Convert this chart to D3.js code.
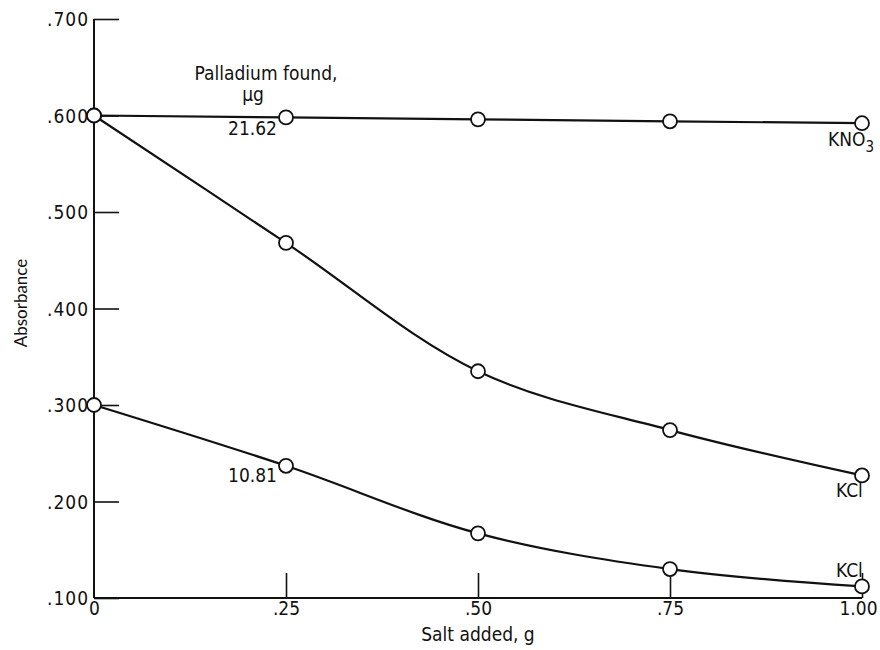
<!DOCTYPE html>
<html>
<head>
<meta charset="utf-8">
<title>Absorbance vs salt added</title>
<script src="https://d3js.org/d3.v7.min.js"></script>
<style>
  body { margin: 0; background: #fff; }
  text { font-family: "DejaVu Sans Condensed", "DejaVu Sans", sans-serif; fill: #111; }
</style>
</head>
<body>
<script>
// data
let saltAdded = [0, 0.25, 0.50, 0.75, 1.00];
let kno3 = [0.600, 0.598, 0.596, 0.594, 0.592];
let kclHigh = [0.600, 0.468, 0.335, 0.274, 0.227];
let kclLow = [0.300, 0.237, 0.167, 0.130, 0.112];
let xTickValues = [0, 0.25, 0.50, 0.75, 1.00];
let xTickLabels = ['0', '.25', '.50', '.75', '1.00'];
let yTickValues = [0.1, 0.2, 0.3, 0.4, 0.5, 0.6, 0.7];
let yTickLabels = ['.100', '.200', '.300', '.400', '.500', '.600', '.700'];

let width = 880, height = 650;
let fontSize = '19px';

let svg = d3.select('body').append('svg')
    .attr('width', width)
    .attr('height', height);

let x = d3.scaleLinear().domain([0, 1]).range([94, 862]);
let y = d3.scaleLinear().domain([0.1, 0.7]).range([598, 19]);

// axes
let yAxis = d3.axisLeft(y)
    .tickValues(yTickValues)
    .tickFormat((d, i) => yTickLabels[i])
    .tickSize(-25)
    .tickPadding(5);
let gy = svg.append('g')
    .attr('transform', `translate(${x(0)},0)`)
    .call(yAxis);

let xAxis = d3.axisBottom(x)
    .tickValues(xTickValues)
    .tickFormat((d, i) => xTickLabels[i])
    .tickSize(-25)
    .tickPadding(3);
let gx = svg.append('g')
    .attr('transform', `translate(0,${y(0.1)})`)
    .call(xAxis);

[gx, gy].forEach(g => {
    g.select('.domain').remove();
    g.selectAll('line').attr('stroke', '#111').attr('stroke-width', 1.6);
    g.selectAll('text')
        .style('font-size', fontSize)
        .attr('fill', '#111');
});
gy.selectAll('text').style('letter-spacing', '1px').attr('dy', '0.35em');
gx.selectAll('.tick').filter(d => d === 0).select('line').remove();
gx.selectAll('.tick').filter(d => d === 1).select('text').attr('dx', -4);

// axis lines
svg.append('line')
    .attr('x1', x(0)).attr('x2', x(0))
    .attr('y1', y(0.7)).attr('y2', y(0.1))
    .attr('stroke', '#111').attr('stroke-width', 2);
svg.append('line')
    .attr('x1', x(0)).attr('x2', x(1))
    .attr('y1', y(0.1)).attr('y2', y(0.1))
    .attr('stroke', '#111').attr('stroke-width', 2);

// series
let series = [
    { name: 'KNO3', values: kno3, curve: d3.curveLinear },
    { name: 'KCl', values: kclHigh, curve: d3.curveCatmullRom.alpha(0.5) },
    { name: 'KCl', values: kclLow, curve: d3.curveCatmullRom.alpha(0.5) }
];

let line = d3.line()
    .x(d => x(d[0]))
    .y(d => y(d[1]));

series.forEach(s => {
    let pts = saltAdded.map((v, i) => [v, s.values[i]]);
    svg.append('path')
        .attr('d', line.curve(s.curve)(pts))
        .attr('fill', 'none')
        .attr('stroke', '#111')
        .attr('stroke-width', 2.2);
    svg.selectAll(null)
        .data(pts)
        .enter()
        .append('circle')
        .attr('cx', d => x(d[0]))
        .attr('cy', d => y(d[1]))
        .attr('r', 7)
        .attr('fill', '#fff')
        .attr('stroke', '#111')
        .attr('stroke-width', 1.8);
});

// labels
let label = (txt, px, py, anchor) => svg.append('text')
    .attr('x', px).attr('y', py)
    .attr('text-anchor', anchor || 'start')
    .style('font-size', fontSize)
    .text(txt);

label('Palladium found,', 266, 80, 'middle');
label('µg', 253, 101, 'middle');
label('21.62', 277, 135, 'end');
label('10.81', 277, 482, 'end');

let kno3Label = label('KNO', 828, 146);
kno3Label.append('tspan').attr('dy', 6).style('font-size', '15px').text('3');
label('KCl', 836, 497);
label('KCl', 836, 577);

label('Salt added, g', 478, 641, 'middle');
svg.append('text')
    .attr('transform', `translate(27,303) rotate(-90)`)
    .attr('text-anchor', 'middle')
    .style('font-family', 'Lato, sans-serif')
    .style('font-size', '17px')
    .text('Absorbance');
</script>
</body>
</html>
